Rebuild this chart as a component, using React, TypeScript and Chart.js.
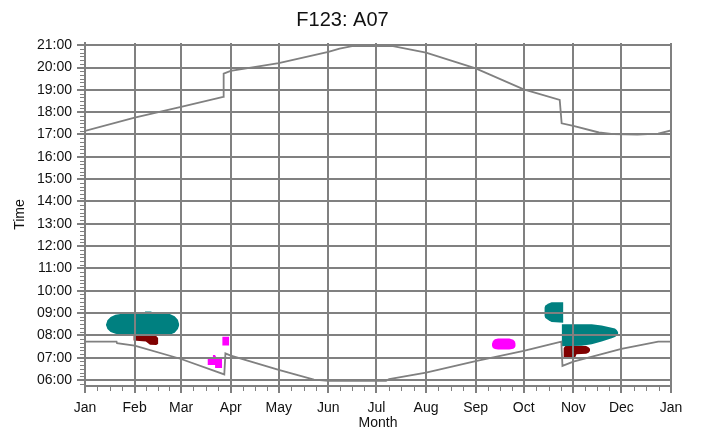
import React, { useEffect, useRef } from 'react';
import { Chart, registerables } from 'chart.js';

Chart.register(...registerables);

// ---- axis ticks ----
const monthTickDays = [0, 31, 60, 91, 121, 152, 182, 213, 244, 274, 305, 335, 366];
const monthTickLabels = ['Jan', 'Feb', 'Mar', 'Apr', 'May', 'Jun', 'Jul', 'Aug', 'Sep', 'Oct', 'Nov', 'Dec', 'Jan'];
const hourTickValues = [6, 7, 8, 9, 10, 11, 12, 13, 14, 15, 16, 17, 18, 19, 20, 21];
const hourTickLabels = ['06:00', '07:00', '08:00', '09:00', '10:00', '11:00', '12:00', '13:00', '14:00', '15:00', '16:00', '17:00', '18:00', '19:00', '20:00', '21:00'];

// ---- sunset line (day of year, hour) ----
const sunsetDays = [0, 31, 60, 86.3, 86.6, 91, 121, 152, 159, 166.8, 192.4, 213, 244, 274, 296.5, 297.7, 305, 321, 330, 345, 358, 366];
const sunsetHours = [17.16, 17.76, 18.24, 18.69, 19.73, 19.85, 20.2, 20.7, 20.85, 20.96, 20.96, 20.67, 19.96, 19.02, 18.55, 17.5, 17.39, 17.09, 17.02, 17.0, 17.04, 17.18];

// ---- sunrise line ----
const sunriseDays = [0, 19.7, 20, 31, 60, 87, 87.7, 90.6, 121, 143, 152, 188, 190, 213, 244, 274, 297.5, 298.2, 305, 335, 358, 366];
const sunriseHours = [7.72, 7.72, 7.65, 7.54, 6.94, 6.25, 7.19, 7.1, 6.45, 6.02, 5.96, 5.96, 6.04, 6.33, 6.85, 7.3, 7.72, 6.63, 6.82, 7.39, 7.72, 7.72];

// ---- Feb teal region ----
const febTealDays = [13.1, 14, 16, 19, 23, 30, 37.4, 37.5, 41.5, 41.6, 48, 53, 56, 58, 58.9];
const febTealTop = [8.48, 8.68, 8.82, 8.92, 8.97, 8.99, 8.99, 9.07, 9.07, 8.99, 8.99, 8.96, 8.86, 8.7, 8.48];
const febTealBottom = [8.46, 8.28, 8.15, 8.07, 8.02, 8.0, 8.0, 8.0, 8.0, 8.0, 8.0, 8.03, 8.12, 8.28, 8.46];

// ---- Feb dark red region ----
const febRedDays = [30.2, 38, 40.6, 44.5, 45.8];
const febRedTop = [8.03, 8.03, 8.03, 7.97, 7.87];
const febRedBottom = [7.77, 7.72, 7.58, 7.57, 7.62];

// ---- March magenta regions ----
const marPinkLowDays = [76.5, 79.8, 79.9, 81.2, 81.3, 81.8, 81.9, 85.7];
const marPinkLowTop = [7.03, 7.03, 7.12, 7.12, 7.12, 7.12, 7.03, 7.03];
const marPinkLowBottom = [6.67, 6.67, 6.67, 6.67, 6.54, 6.54, 6.54, 6.54];

const marPinkHighDays = [85.7, 90.1];
const marPinkHighTop = [7.94, 7.94];
const marPinkHighBottom = [7.55, 7.55];

// ---- Sep magenta region ----
const sepPinkDays = [254.2, 254.8, 256, 258, 265, 267.5, 268.5, 269.0];
const sepPinkTop = [7.62, 7.75, 7.83, 7.86, 7.86, 7.8, 7.72, 7.62];
const sepPinkBottom = [7.52, 7.43, 7.39, 7.37, 7.37, 7.4, 7.45, 7.52];

// ---- Oct teal region (upper) ----
const octTealDays = [286.9, 287.5, 289.5, 291.4, 298.8];
const octTealTop = [9.24, 9.34, 9.43, 9.48, 9.48];
const octTealBottom = [8.88, 8.78, 8.68, 8.6, 8.56];

// ---- Nov teal region ----
const novTealDays = [297.7, 310.2, 316.5, 322.7, 329, 331, 332.1, 333.1];
const novTealTop = [8.5, 8.5, 8.5, 8.44, 8.34, 8.31, 8.24, 8.13];
const novTealBottom = [7.51, 7.53, 7.6, 7.72, 7.87, 7.93, 7.98, 8.08];

// ---- Nov dark red region ----
const novRedDays = [298.8, 300, 306, 307, 313, 314.5, 315.4];
const novRedTop = [7.42, 7.52, 7.52, 7.52, 7.52, 7.47, 7.4];
const novRedBottom = [7.0, 6.98, 6.98, 7.15, 7.17, 7.22, 7.3];

const GRID = '#808080';
const LINE = '#808080';
const TEXT = '#111111';
const TEAL = '#008080';
const DARKRED = '#800000';
const MAGENTA = '#ff00ff';
const FONT = "'Liberation Sans', Arial, sans-serif";

function pts(xs: number[], ys: number[]) {
  return xs.map((x, i) => ({ x, y: ys[i] }));
}

function region(label: string, color: string, days: number[], top: number[], bottom: number[]) {
  return [
    {
      label: label + ' top',
      data: pts(days, top),
      borderColor: 'rgba(0,0,0,0)',
      borderWidth: 0,
      backgroundColor: color,
      pointRadius: 0,
      fill: '+1',
      tension: 0,
    },
    {
      label: label + ' bottom',
      data: pts(days, bottom),
      borderColor: 'rgba(0,0,0,0)',
      borderWidth: 0,
      backgroundColor: color,
      pointRadius: 0,
      fill: false,
      tension: 0,
    },
  ];
}

const minorTicksPlugin = {
  id: 'minorTicks',
  afterDraw(chart: any) {
    const { ctx, chartArea } = chart;
    const x = chart.scales.x;
    const y = chart.scales.y;
    ctx.save();
    ctx.strokeStyle = GRID;
    ctx.lineWidth = 1;
    ctx.beginPath();
    for (let i = 0; i < monthTickDays.length - 1; i++) {
      const a = monthTickDays[i];
      const b = monthTickDays[i + 1];
      for (let k = 1; k < 4; k++) {
        const px = Math.round(x.getPixelForValue(a + ((b - a) * k) / 4)) + 0.5;
        ctx.moveTo(px, chartArea.bottom);
        ctx.lineTo(px, chartArea.bottom + 5);
      }
    }
    const start = Math.ceil(y.min * 6);
    const end = Math.floor(y.max * 6);
    for (let m = start; m <= end; m++) {
      if (m % 6 === 0) continue;
      const py = Math.round(y.getPixelForValue(m / 6)) + 0.5;
      ctx.moveTo(chartArea.left - 5, py);
      ctx.lineTo(chartArea.left, py);
    }
    ctx.stroke();
    ctx.restore();
  },
};

const titlePlugin = {
  id: 'customTitle',
  afterDraw(chart: any) {
    const { ctx } = chart;
    ctx.save();
    ctx.fillStyle = TEXT;
    ctx.font = `20px ${FONT}`;
    ctx.textAlign = 'center';
    ctx.textBaseline = 'middle';
    ctx.fillText('F123: A07', 342.5, 20);
    ctx.restore();
  },
};

export default function App() {
  const ref = useRef<HTMLCanvasElement>(null);

  useEffect(() => {
    document.body.style.margin = '0';
    const tickFont = { family: FONT, size: 14 };
    const datasets: any[] = [
      {
        label: 'Sunset',
        data: pts(sunsetDays, sunsetHours),
        borderColor: LINE,
        borderWidth: 1.8,
        pointRadius: 0,
        fill: false,
        tension: 0,
      },
      {
        label: 'Sunrise',
        data: pts(sunriseDays, sunriseHours),
        borderColor: LINE,
        borderWidth: 1.8,
        pointRadius: 0,
        fill: false,
        tension: 0,
      },
      ...region('Feb teal', TEAL, febTealDays, febTealTop, febTealBottom),
      ...region('Oct teal', TEAL, octTealDays, octTealTop, octTealBottom),
      ...region('Nov teal', TEAL, novTealDays, novTealTop, novTealBottom),
      ...region('Feb red', DARKRED, febRedDays, febRedTop, febRedBottom),
      ...region('Nov red', DARKRED, novRedDays, novRedTop, novRedBottom),
      ...region('Mar pink low', MAGENTA, marPinkLowDays, marPinkLowTop, marPinkLowBottom),
      ...region('Mar pink high', MAGENTA, marPinkHighDays, marPinkHighTop, marPinkHighBottom),
      ...region('Sep pink', MAGENTA, sepPinkDays, sepPinkTop, sepPinkBottom),
    ];

    const chart = new Chart(ref.current as HTMLCanvasElement, {
      type: 'line',
      data: { datasets },
      options: {
        animation: false,
        responsive: false,
        devicePixelRatio: 1,
        events: [],
        layout: { padding: { top: 43, right: 30, left: 0, bottom: 0 } },
        plugins: {
          legend: { display: false },
          tooltip: { enabled: false },
          title: { display: false },
        },
        scales: {
          x: {
            type: 'linear',
            min: 0,
            max: 366,
            bounds: 'data',
            afterBuildTicks: (s: any) => {
              s.ticks = monthTickDays.map((v) => ({ value: v }));
            },
            afterFit: (s: any) => {
              s.height = 46;
            },
            ticks: {
              autoSkip: false,
              maxRotation: 0,
              minRotation: 0,
              padding: 7,
              color: TEXT,
              font: tickFont,
              callback: (_v: any, i: number) => monthTickLabels[i],
            },
            grid: { color: GRID, lineWidth: 2, tickLength: 7, drawTicks: true, z: 1 },
            border: { display: true, color: GRID, width: 2, z: 1 },
            title: {
              display: true,
              text: 'Month',
              color: TEXT,
              font: tickFont,
              padding: { top: 0, bottom: 0 },
            },
          },
          y: {
            type: 'linear',
            min: 5.73,
            max: 21.1,
            bounds: 'data',
            afterBuildTicks: (s: any) => {
              s.ticks = hourTickValues.map((v) => ({ value: v }));
            },
            afterFit: (s: any) => {
              s.width = 85;
            },
            ticks: {
              autoSkip: false,
              padding: 5,
              color: TEXT,
              font: tickFont,
              callback: (_v: any, i: number) => hourTickLabels[i],
            },
            grid: { color: GRID, lineWidth: 2, tickLength: 8, drawTicks: true, z: 1 },
            border: { display: true, color: GRID, width: 2, z: 1 },
            title: {
              display: true,
              text: 'Time',
              color: TEXT,
              font: tickFont,
              padding: { top: 12, bottom: 0 },
            },
          },
        },
      } as any,
      plugins: [minorTicksPlugin, titlePlugin],
    });
    return () => chart.destroy();
  }, []);

  return (
    <canvas
      ref={ref}
      width={701}
      height={432}
      style={{ display: 'block', width: 701, height: 432 }}
    />
  );
}
